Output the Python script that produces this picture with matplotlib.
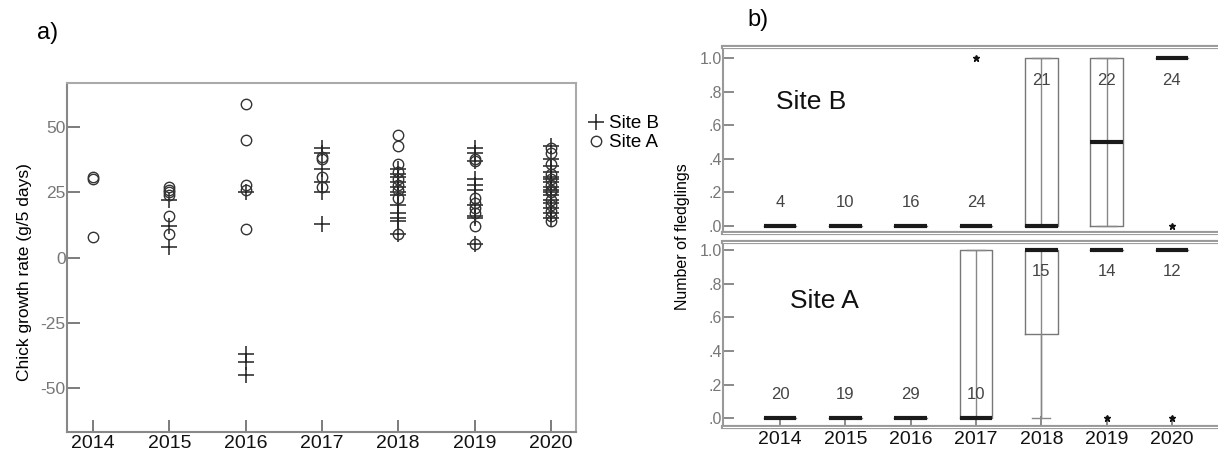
import numpy as np
import matplotlib.pyplot as plt

plt.rcParams['font.family'] = ['Liberation Sans', 'DejaVu Sans']
plt.rcParams['axes.unicode_minus'] = False

years = [2014, 2015, 2016, 2017, 2018, 2019, 2020]

# a) chick growth rate (g/5 days), one list per year
site_b_growth = [
    [],
    [22, 12, 4],
    [25, -37, -40, -45],
    [42, 40, 34, 29, 25, 13],
    [34, 32, 31, 29, 27, 25, 24, 20, 17, 15, 14, 9],
    [42, 40, 37, 30, 28, 26, 20, 16, 15, 5],
    [43, 38, 35, 33, 31, 30, 29, 27, 26, 25, 24, 22, 21, 19, 17, 15],
]
site_a_growth = [
    [31, 30, 8],
    [27, 26, 25, 24, 16, 9],
    [59, 45, 28, 26, 11],
    [38.5, 38, 31, 27],
    [47, 43, 36, 33, 30, 28, 26, 23, 9],
    [38, 37, 23, 21, 19, 17, 12, 5],
    [42, 40, 36, 32, 30, 28, 26, 25, 22, 20, 18, 16, 14],
]

# b) number of fledglings, box stats per year
b_n = [4, 10, 16, 24, 21, 22, 24]
b_med = [0, 0, 0, 0, 0, 0.5, 1]
b_q1 = [0, 0, 0, 0, 0, 0, 1]
b_q3 = [0, 0, 0, 0, 1, 1, 1]
b_lo = [0, 0, 0, 0, 0, 0, 1]
b_hi = [0, 0, 0, 0, 1, 1, 1]
b_fliers = [[], [], [], [1], [], [], [0]]

a_n = [20, 19, 29, 10, 15, 14, 12]
a_med = [0, 0, 0, 0, 1, 1, 1]
a_q1 = [0, 0, 0, 0, 0.5, 1, 1]
a_q3 = [0, 0, 0, 1, 1, 1, 1]
a_lo = [0, 0, 0, 0, 0, 1, 1]
a_hi = [0, 0, 0, 1, 1, 1, 1]
a_fliers = [[], [], [], [], [], [0], [0]]

# where the n label sits (True = near top of panel)
b_label_top = [False, False, False, False, True, True, True]
a_label_top = [False, False, False, False, True, True, True]

W, H = 1218, 453
fig = plt.figure(figsize=(W / 100, H / 100), dpi=100)

# ---------- panel a ----------
ax = fig.add_axes([67 / W, 1 - 432 / H, 509 / W, 349 / H])
xb = np.repeat(years, [len(v) for v in site_b_growth])
yb = np.concatenate([np.array(v, float) for v in site_b_growth])
xa = np.repeat(years, [len(v) for v in site_a_growth])
ya = np.concatenate([np.array(v, float) for v in site_a_growth])
ax.plot(xb, yb, ls='none', marker='+', ms=12, mew=1.1, color='#222', label='Site B')
ax.plot(xa, ya, ls='none', marker='o', ms=7.5, mfc='none', mec='#333', mew=1.0, label='Site A')
ax.set_xlim(2013.66, 2020.33)
ax.set_ylim(-67, 67)
ax.set_xticks(years)
ax.set_yticks([-50, -25, 0, 25, 50])
ax.tick_params(direction='in', length=9, width=1.2, color='#666')
ax.tick_params(axis='y', labelsize=12.5, labelcolor='#777', pad=1)
ax.tick_params(axis='x', labelsize=14, labelcolor='#111', pad=2)
for s in ax.spines.values():
    s.set_color('#888')
    s.set_linewidth(1.5)
ax.spines['top'].set_color('#aaa')
ax.spines['right'].set_color('#aaa')
ax.legend(loc='upper left', bbox_to_anchor=(588 / W, 1 - 115 / H), bbox_transform=fig.transFigure,
          frameon=False, fontsize=13.5, handlelength=0.8, handletextpad=0.3, labelspacing=0.1,
          borderpad=0, borderaxespad=0)
fig.text(25 / W, 1 - 272 / H, 'Chick growth rate (g/5 days)', rotation=90,
         ha='center', va='center', fontsize=12.5)
fig.text(48 / W, 1 - 33 / H, 'a)', ha='center', va='center', fontsize=17)

# ---------- panel b ----------
def box_panel(axb, med, q1, q3, lo, hi, fliers, ns, top_flags, ylim, site):
    stats = []
    for i in range(len(years)):
        stats.append(dict(med=med[i], q1=q1[i], q3=q3[i], whislo=lo[i], whishi=hi[i],
                          fliers=fliers[i]))
    axb.vlines(years, lo, hi, color='#888', lw=1, zorder=1)
    axb.bxp(stats, positions=years, widths=0.5, capwidths=0.28, manage_ticks=False,
            boxprops=dict(color='#777', lw=1),
            whiskerprops=dict(color='#888', lw=1),
            capprops=dict(color='#888', lw=1),
            medianprops=dict(color='#1a1a1a', lw=3, solid_capstyle='butt'),
            flierprops=dict(marker='*', ms=5, mfc='#111', mec='#111'))
    for x, n, t in zip(years, ns, top_flags):
        axb.text(x, 0.87 if t else 0.14, str(n), ha='center', va='center',
                 fontsize=12, color='#444')
    axb.set_xlim(2013.13, 2020.89)
    axb.set_ylim(*ylim)
    axb.set_yticks([0, 0.2, 0.4, 0.6, 0.8, 1.0])
    axb.set_yticklabels(['.0', '.2', '.4', '.6', '.8', '1.0'])
    axb.tick_params(direction='in', length=8, width=1.2, color='#777')
    axb.tick_params(axis='y', labelsize=11.5, labelcolor='#777', pad=1)
    for s in axb.spines.values():
        s.set_color('#999')
        s.set_linewidth(1.5)
    for side in ['top', 'bottom']:
        axb.spines[side].set_linewidth(3)
        yy = 1 if side == 'top' else 0
        axb.plot([0, 1], [yy, yy], transform=axb.transAxes, color='white', lw=0.8,
                 clip_on=False, zorder=5)
    axb.text(*site[1:], site[0], ha='center', va='center', fontsize=19, color='#111')

axt = fig.add_axes([723.3 / W, 1 - 233 / H, 506.7 / W, 185.7 / H])
box_panel(axt, b_med, b_q1, b_q3, b_lo, b_hi, b_fliers, b_n, b_label_top,
          (-0.042, 1.065), ('Site B', 2014.47, 0.74))
axt.tick_params(axis='x', bottom=False, labelbottom=False)

axl = fig.add_axes([723.3 / W, 1 - 427 / H, 506.7 / W, 185.3 / H])
box_panel(axl, a_med, a_q1, a_q3, a_lo, a_hi, a_fliers, a_n, a_label_top,
          (-0.052, 1.05), ('Site A', 2014.68, 0.70))
axl.set_xticks(years)
axl.tick_params(axis='x', labelsize=14, labelcolor='#111', pad=3)

fig.text(683 / W, 1 - 237 / H, 'Number of fledglings', rotation=90,
         ha='center', va='center', fontsize=11.5)
fig.text(758 / W, 1 - 20 / H, 'b)', ha='center', va='center', fontsize=17)

fig.savefig('out.png', dpi=100)
